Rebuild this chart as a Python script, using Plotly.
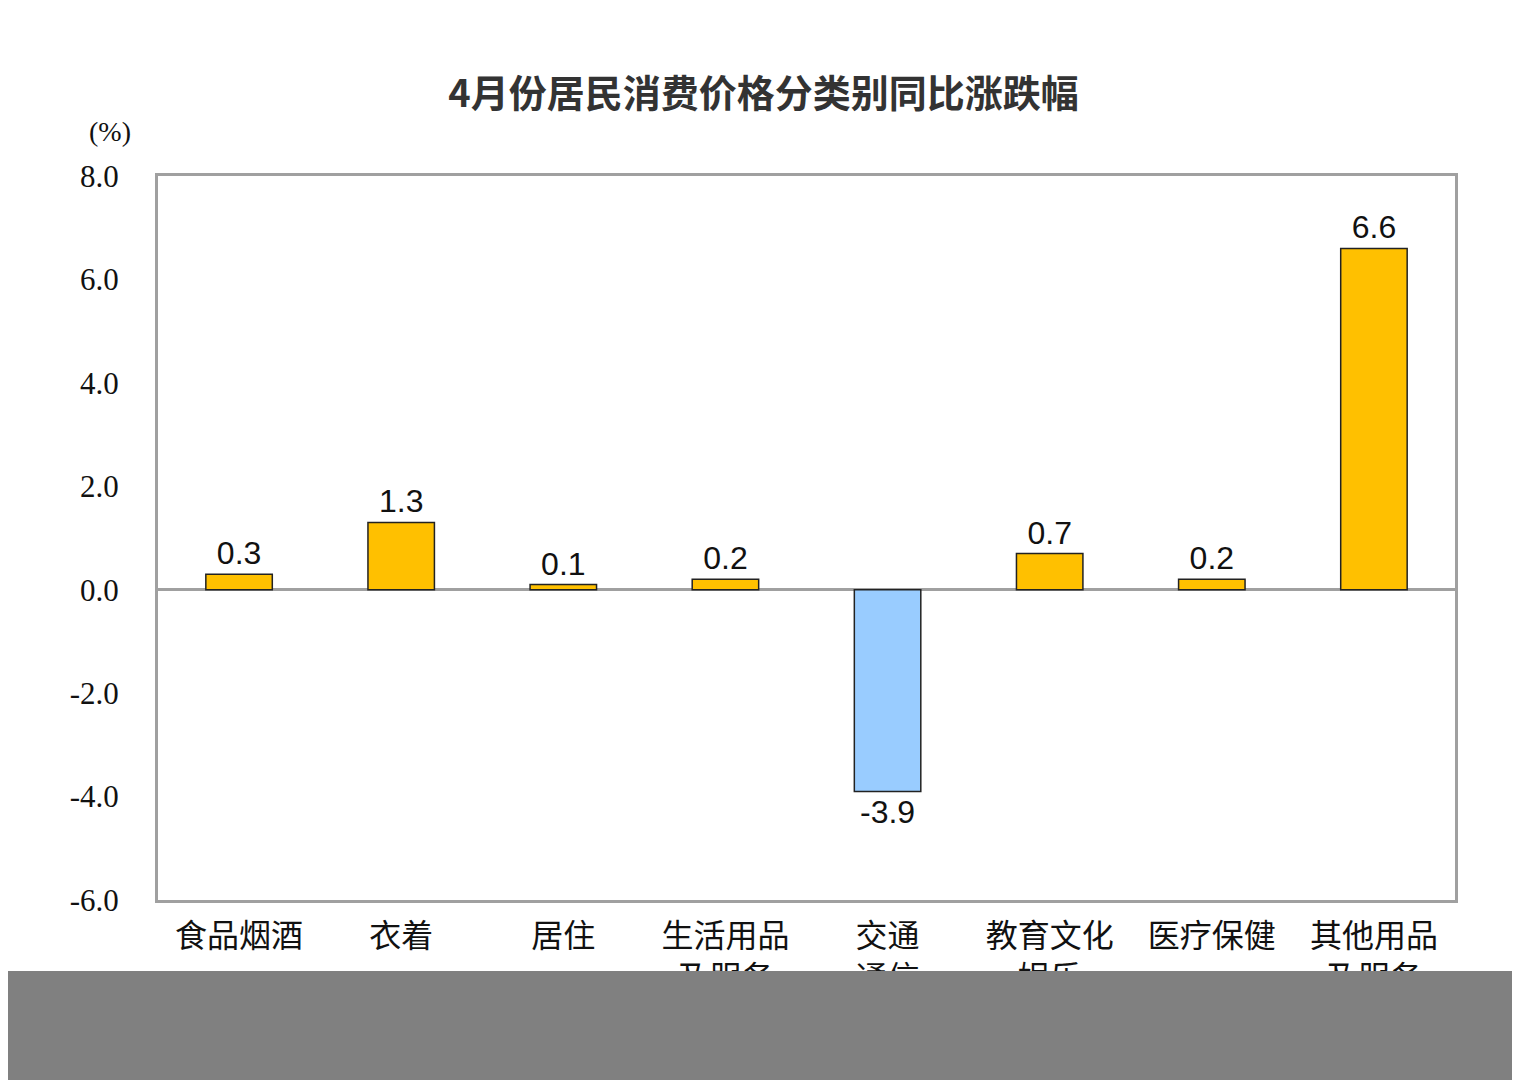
import plotly.graph_objects as go

categories = ["食品烟酒", "衣着", "居住", "生活用品<br>及服务", "交通<br>通信", "教育文化<br>娱乐", "医疗保健", "其他用品<br>及服务"]
values = [0.3, 1.3, 0.1, 0.2, -3.9, 0.7, 0.2, 6.6]
labels = ["0.3", "1.3", "0.1", "0.2", "-3.9", "0.7", "0.2", "6.6"]
yticks = [-6, -4, -2, 0, 2, 4, 6, 8]
yticktext = ["-6.0", "-4.0", "-2.0", "0.0", "2.0", "4.0", "6.0", "8.0"]

colors = ["#99CCFF" if v < 0 else "#FFC000" for v in values]

fig = go.Figure(go.Bar(
    x=categories, y=values, width=0.41,
    marker=dict(color=colors, line=dict(color="#222222", width=1.5)),
    text=labels, textposition="outside", cliponaxis=False,
    textfont=dict(family="Liberation Sans, Arial", size=32, color="#111111"),
))

fig.update_layout(
    width=1520, height=1080,
    margin=dict(l=150, r=73, t=168, b=188),
    paper_bgcolor="white", plot_bgcolor="white",
    title=dict(text="<b>4月份居民消费价格分类别同比涨跌幅</b>", x=0.497, xanchor="center", y=0.921, yanchor="middle",
               font=dict(family="Noto Sans CJK SC", size=38, color="#333333")),
    showlegend=False,
    font=dict(family="Noto Sans CJK SC", color="#111111"),
    xaxis=dict(showline=True, mirror=True, linecolor="#A0A0A0", linewidth=3,
               tickfont=dict(size=32, family="Noto Sans CJK SC"), ticks="", ticklabelstandoff=6),
    yaxis=dict(range=[-6, 8], tickvals=yticks, ticktext=yticktext, showgrid=False,
               showline=True, mirror=True, linecolor="#A0A0A0", linewidth=3,
               zeroline=True, zerolinecolor="#A0A0A0", zerolinewidth=3,
               tickfont=dict(size=31, family="Liberation Serif, Times New Roman"), ticks="",
               ticklabelstandoff=30),
    annotations=[dict(text="(%)", xref="paper", yref="paper", x=-0.055, y=1.085, showarrow=False,
                      font=dict(size=28, family="Liberation Serif"))],
    shapes=[dict(type="rect", xref="paper", yref="paper", x0=-0.3, x1=1.2, y0=-0.098, y1=-0.3,
                 fillcolor="#808080", line=dict(width=0), layer="above")],
)
fig.write_html("out.html")
